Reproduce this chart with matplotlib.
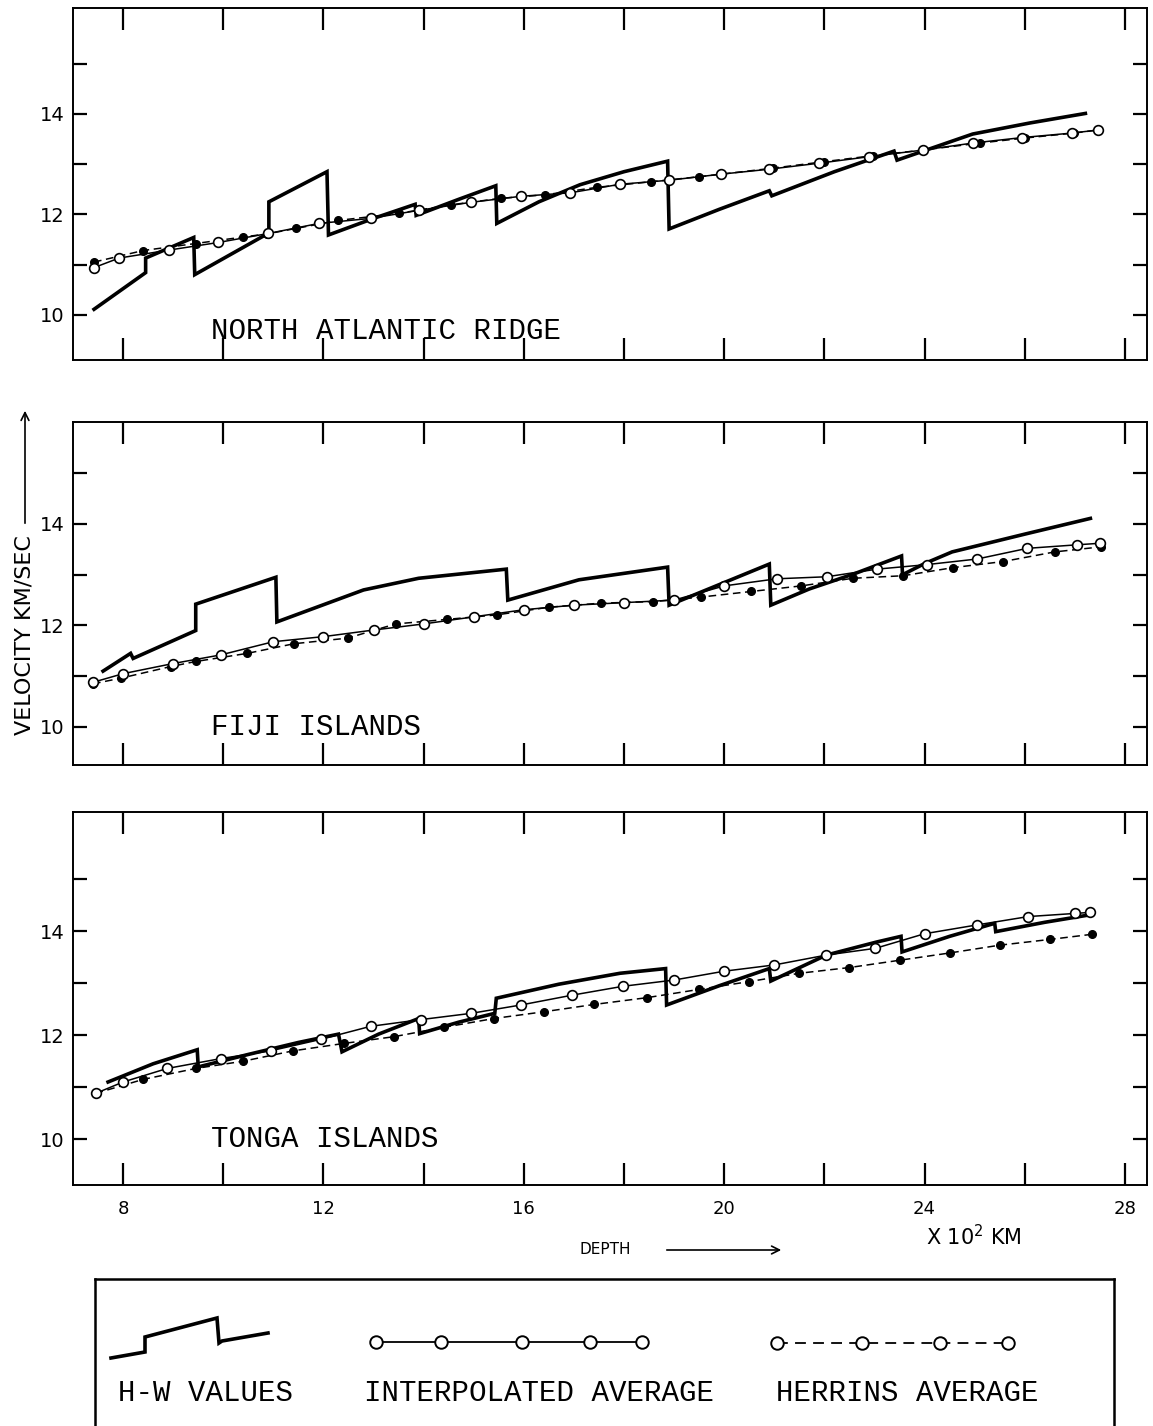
import numpy as np
import matplotlib
matplotlib.use("Agg")
import matplotlib.pyplot as plt
from matplotlib.patches import FancyArrowPatch

W, H = 1153, 1426

# depth in 100 km, velocity in km/sec
# North Atlantic Ridge
nar_hw_depth = [7.42, 8.45, 8.45, 9.41, 9.43, 10.91, 10.91, 12.07, 12.10, 13.00, 13.83, 13.85,
                14.70, 15.44, 15.46, 16.30, 17.12, 18.00, 18.87, 18.90, 19.90, 20.90, 20.95,
                22.20, 23.39, 23.45, 24.96, 26.10, 27.21]
nar_hw_vel = [10.11, 10.84, 11.13, 11.54, 10.80, 11.63, 12.25, 12.85, 11.59, 11.92, 12.20, 11.98,
              12.30, 12.57, 11.82, 12.25, 12.59, 12.85, 13.06, 11.71, 12.10, 12.47, 12.37,
              12.85, 13.26, 13.08, 13.60, 13.82, 14.01]
nar_int_depth = [7.42, 7.92, 8.92, 9.90, 10.90, 11.91, 12.94, 13.90, 14.94, 15.94, 16.93, 17.92,
                 18.90, 19.93, 20.90, 21.90, 22.90, 23.96, 24.96, 25.95, 26.95, 27.46]
nar_int_vel = [10.94, 11.13, 11.29, 11.44, 11.62, 11.82, 11.92, 12.08, 12.24, 12.36, 12.43, 12.60,
               12.68, 12.80, 12.90, 13.02, 13.15, 13.28, 13.42, 13.53, 13.62, 13.68]
nar_her_depth = [7.42, 8.40, 9.45, 10.40, 10.87, 11.45, 12.30, 13.50, 14.54, 15.54, 16.43, 17.47,
                 18.54, 19.50, 20.97, 22.00, 22.97, 23.96, 25.10, 26.00, 26.99, 27.46]
nar_her_vel = [11.05, 11.28, 11.42, 11.55, 11.61, 11.72, 11.88, 12.02, 12.19, 12.32, 12.39, 12.54,
               12.65, 12.75, 12.92, 13.05, 13.17, 13.28, 13.42, 13.52, 13.62, 13.68]

# Fiji Islands
fiji_hw_depth = [7.60, 8.15, 8.20, 9.45, 9.45, 11.05, 11.07, 12.80, 13.90, 15.65, 15.68, 17.10,
                 18.87, 18.90, 20.90, 20.93, 21.70, 22.60, 23.54, 23.56, 24.00, 24.55, 26.00, 27.31]
fiji_hw_vel = [11.10, 11.45, 11.35, 11.90, 12.42, 12.95, 12.07, 12.70, 12.93, 13.11, 12.50, 12.90,
               13.15, 12.40, 13.21, 12.40, 12.72, 13.02, 13.37, 13.00, 13.22, 13.45, 13.80, 14.11]
fiji_int_depth = [7.40, 8.00, 9.00, 9.95, 11.00, 12.00, 13.00, 14.00, 15.00, 16.00, 17.00, 18.00,
                  19.00, 20.00, 21.05, 22.05, 23.05, 24.05, 25.05, 26.05, 27.05, 27.50]
fiji_int_vel = [10.88, 11.05, 11.25, 11.42, 11.68, 11.78, 11.91, 12.03, 12.17, 12.31, 12.40, 12.45,
                12.50, 12.78, 12.92, 12.96, 13.11, 13.20, 13.31, 13.52, 13.59, 13.62]
fiji_her_depth = [7.40, 7.95, 8.95, 9.45, 10.48, 11.41, 12.48, 13.44, 14.47, 15.47, 16.50, 17.54,
                  18.58, 19.54, 20.54, 21.54, 22.57, 23.57, 24.57, 25.57, 26.60, 27.53]
fiji_her_vel = [10.85, 10.96, 11.19, 11.29, 11.45, 11.64, 11.75, 12.03, 12.12, 12.21, 12.36, 12.44,
                12.47, 12.56, 12.67, 12.78, 12.93, 12.98, 13.14, 13.26, 13.45, 13.55]

# Tonga Islands
tonga_hw_depth = [7.70, 8.60, 9.48, 9.50, 10.50, 11.50, 12.30, 12.37, 13.10, 13.90, 13.92, 14.70,
                  15.42, 15.45, 16.70, 17.92, 18.83, 18.85, 19.90, 20.90, 20.93, 22.04, 23.04,
                  23.53, 23.55, 24.50, 25.40, 25.42, 26.40, 27.28]
tonga_hw_vel = [11.10, 11.45, 11.72, 11.39, 11.63, 11.86, 12.02, 11.68, 12.02, 12.32, 12.03, 12.25,
                12.42, 12.71, 12.98, 13.19, 13.28, 12.58, 12.95, 13.28, 13.04, 13.54, 13.79,
                13.90, 13.60, 13.90, 14.15, 13.99, 14.17, 14.31]
tonga_int_depth = [7.45, 8.00, 8.88, 9.95, 10.95, 11.95, 12.94, 13.95, 14.95, 15.94, 16.97, 17.98,
                   19.00, 20.00, 21.00, 22.04, 23.02, 24.00, 25.05, 26.07, 27.00, 27.30]
tonga_int_vel = [10.88, 11.10, 11.36, 11.55, 11.70, 11.92, 12.17, 12.30, 12.42, 12.58, 12.77, 12.94,
                 13.06, 13.23, 13.35, 13.54, 13.67, 13.95, 14.12, 14.28, 14.34, 14.36]
tonga_her_depth = [7.45, 8.40, 9.45, 10.40, 11.40, 12.40, 13.40, 14.40, 15.40, 16.40, 17.40, 18.45,
                   19.50, 20.50, 21.50, 22.50, 23.50, 24.50, 25.50, 26.50, 27.35]
tonga_her_vel = [10.88, 11.15, 11.36, 11.50, 11.70, 11.84, 11.97, 12.15, 12.32, 12.45, 12.59, 12.72,
                 12.88, 13.03, 13.19, 13.30, 13.44, 13.58, 13.73, 13.84, 13.94]

region_names = ["NORTH ATLANTIC RIDGE", "FIJI ISLANDS", "TONGA ISLANDS"]
x_ticks = list(range(8, 29, 2))
x_ticklabels = ["8", "", "12", "", "16", "", "20", "", "24", "", "28"]
y_ticks = [10, 11, 12, 13, 14, 15]
y_ticklabels = ["10", "", "12", "", "14", ""]

# legend key shapes
key_hw_x = [111, 145, 145, 217, 219, 222, 268]
key_hw_y = [1358, 1352, 1337, 1318, 1343, 1341, 1333]
key_int_x = [376, 441, 522, 590, 642]
key_her_x = [777, 862, 940, 1008]

mono = "Liberation Mono"
plt.rcParams["font.family"] = ["DejaVu Sans"]

fig = plt.figure(figsize=(W / 100, H / 100), dpi=100)

panels = [
    (nar_hw_depth, nar_hw_vel, nar_int_depth, nar_int_vel, nar_her_depth, nar_her_vel),
    (fiji_hw_depth, fiji_hw_vel, fiji_int_depth, fiji_int_vel, fiji_her_depth, fiji_her_vel),
    (tonga_hw_depth, tonga_hw_vel, tonga_int_depth, tonga_int_vel, tonga_her_depth, tonga_her_vel),
]
# (top px, bottom px, ymin, ymax, label y)
boxes = [(8, 360, 9.10, 16.11, 9.67), (422, 765, 9.25, 16.01, 10.0), (812, 1185, 9.12, 16.29, 10.0)]
x_left, x_right = 73, 1147

for i, (data, box) in enumerate(zip(panels, boxes)):
    hw_d, hw_v, int_d, int_v, her_d, her_v = data
    top, bot, y0, y1, ly = box
    ax = fig.add_axes([x_left / W, 1 - bot / H, (x_right - x_left) / W, (bot - top) / H])
    ax.plot(hw_d, hw_v, color="k", lw=2.6, solid_joinstyle="miter", zorder=3)
    ax.plot(her_d, her_v, color="k", lw=1.1, ls=(0, (5, 3)), marker="o", ms=5.5,
            mfc="k", mec="k", zorder=2)
    ax.plot(int_d, int_v, color="k", lw=1.1, marker="o", ms=7, mfc="white",
            mec="k", mew=1.2, zorder=4)
    ax.set_xlim(7.0, 28.44)
    ax.set_ylim(y0, y1)
    ax.set_xticks(x_ticks)
    ax.set_yticks(y_ticks)
    ax.set_yticklabels(y_ticklabels, fontsize=14)
    ax.tick_params(axis="x", direction="in", top=True, bottom=True, length=16, width=1.6, pad=11)
    ax.tick_params(axis="y", direction="in", left=True, right=True, length=10, width=1.6, pad=6)
    if i == 2:
        ax.set_xticklabels(x_ticklabels, fontsize=13)
    else:
        ax.tick_params(axis="x", labelbottom=False)
    for s in ax.spines.values():
        s.set_linewidth(1.4)
    ax.text(9.75, ly, region_names[i], fontsize=21, family=mono, ha="left", va="center")


def fx(px):
    return px / W


def fy(py):
    return 1 - py / H


# y axis label with arrow
fig.text(fx(25), fy(735), "VELOCITY KM/SEC", rotation=90, ha="center", va="bottom", fontsize=16)
fig.add_artist(FancyArrowPatch((fx(25), fy(526)), (fx(25), fy(408)), transform=fig.transFigure,
                               arrowstyle="->", mutation_scale=14, lw=1.2, color="k"))

# x axis label
fig.text(fx(605), fy(1250), "DEPTH", ha="center", va="center", fontsize=11)
fig.add_artist(FancyArrowPatch((fx(664), fy(1250)), (fx(784), fy(1250)), transform=fig.transFigure,
                               arrowstyle="->", mutation_scale=14, lw=1.2, color="k"))
fig.text(fx(974), fy(1237), "X 10$^2$ KM", ha="center", va="center", fontsize=15)

# legend box
lax = fig.add_axes([fx(95), 0, (1114 - 95) / W, (H - 1279) / H])
lax.set_xlim(95, 1114)
lax.set_ylim(H, 1279)
lax.set_xticks([])
lax.set_yticks([])
lax.spines["bottom"].set_visible(False)
for s in ["top", "left", "right"]:
    lax.spines[s].set_linewidth(1.8)

lax.plot(key_hw_x, key_hw_y, color="k", lw=2.6, solid_joinstyle="miter")
lax.plot(key_int_x, [1342] * len(key_int_x), color="k", lw=1.3, marker="o", ms=9,
         mfc="white", mec="k", mew=1.4)
lax.plot(key_her_x, [1343] * len(key_her_x), color="k", lw=1.3, ls=(0, (6, 4)), marker="o", ms=9,
         mfc="white", mec="k", mew=1.4)
lax.text(206, 1393, "H-W VALUES", fontsize=21, family=mono, ha="center", va="center")
lax.text(539, 1393, "INTERPOLATED AVERAGE", fontsize=21, family=mono, ha="center", va="center")
lax.text(907, 1393, "HERRINS AVERAGE", fontsize=21, family=mono, ha="center", va="center")

fig.savefig("out.png", dpi=100)
